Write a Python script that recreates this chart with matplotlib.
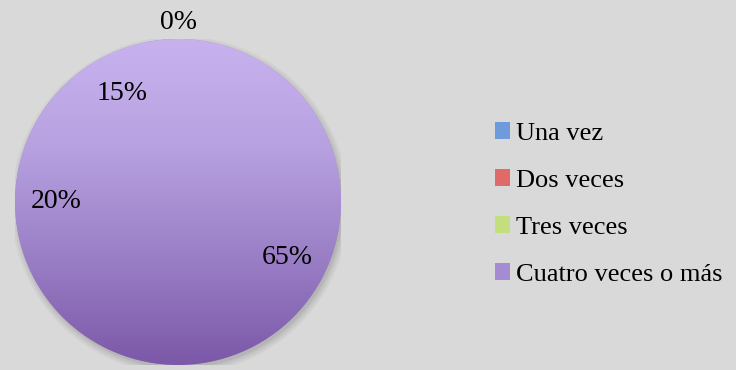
import matplotlib
matplotlib.use("Agg")
import matplotlib.pyplot as plt
import numpy as np
from matplotlib.colors import LinearSegmentedColormap
from matplotlib.patches import Circle, Patch

plt.rcParams['font.family'] = ['Liberation Serif', 'DejaVu Serif']

categorias = ['Una vez', 'Dos veces', 'Tres veces', 'Cuatro veces o más']
porcentajes = [0, 15, 20, 65]
colores_leyenda = ['#6E9BDB', '#E06A68', '#C3DE7C', '#A48BD2']

fig = plt.figure(figsize=(7.36, 3.70), dpi=100)
fig.patch.set_facecolor('#D9D9D9')

ax = fig.add_axes([15 / 736, 5 / 370, 326 / 736, 326 / 370])
ax.set_facecolor('none')

# sombra suave debajo del circulo
for k, a in enumerate([0.05, 0.05, 0.06, 0.08]):
    ax.add_patch(Circle((0.012, -0.02), 1.0 + 0.012 * (3 - k), color='#404040',
                        alpha=a, lw=0, zorder=0))

wedges, _ = ax.pie(porcentajes, startangle=90, counterclock=True,
                   colors=['#A58CD0'] * len(porcentajes),
                   wedgeprops=dict(linewidth=0))

# relleno degradado de arriba (claro) a abajo (oscuro), recortado al circulo
cmap = LinearSegmentedColormap.from_list('lila', ['#C8B2EE', '#B7A1E0', '#9A7FC6', '#7C58A8'])
grad = np.linspace(0, 1, 256).reshape(-1, 1)
borde = Circle((0, 0), 1.0, transform=ax.transData)
im = ax.imshow(grad, cmap=cmap, extent=(-1, 1, -1, 1), aspect='auto',
               origin='upper', zorder=2)
im.set_clip_path(borde)

# etiquetas de porcentaje
inicio = 90.0
total = sum(porcentajes)
for v in porcentajes:
    ang = inicio + 360.0 * v / total / 2
    r = 1.1 if v == 0 else 0.75
    ax.text(r * np.cos(np.radians(ang)), r * np.sin(np.radians(ang)), f'{v}%',
            ha='center', va='center', fontsize=20, zorder=5)
    inicio += 360.0 * v / total

ax.set_xlim(-1, 1)
ax.set_ylim(-1, 1)
ax.set_aspect('equal')
ax.axis('off')

handles = [Patch(facecolor=c, edgecolor='none') for c in colores_leyenda]
fig.legend(handles, categorias, loc='center left', bbox_to_anchor=(484 / 736, 166 / 370),
           frameon=False, fontsize=19, handlelength=0.6, handleheight=0.6,
           handletextpad=0.2, labelspacing=0.92, borderaxespad=0)

fig.savefig('out.png', dpi=100, facecolor=fig.get_facecolor())
